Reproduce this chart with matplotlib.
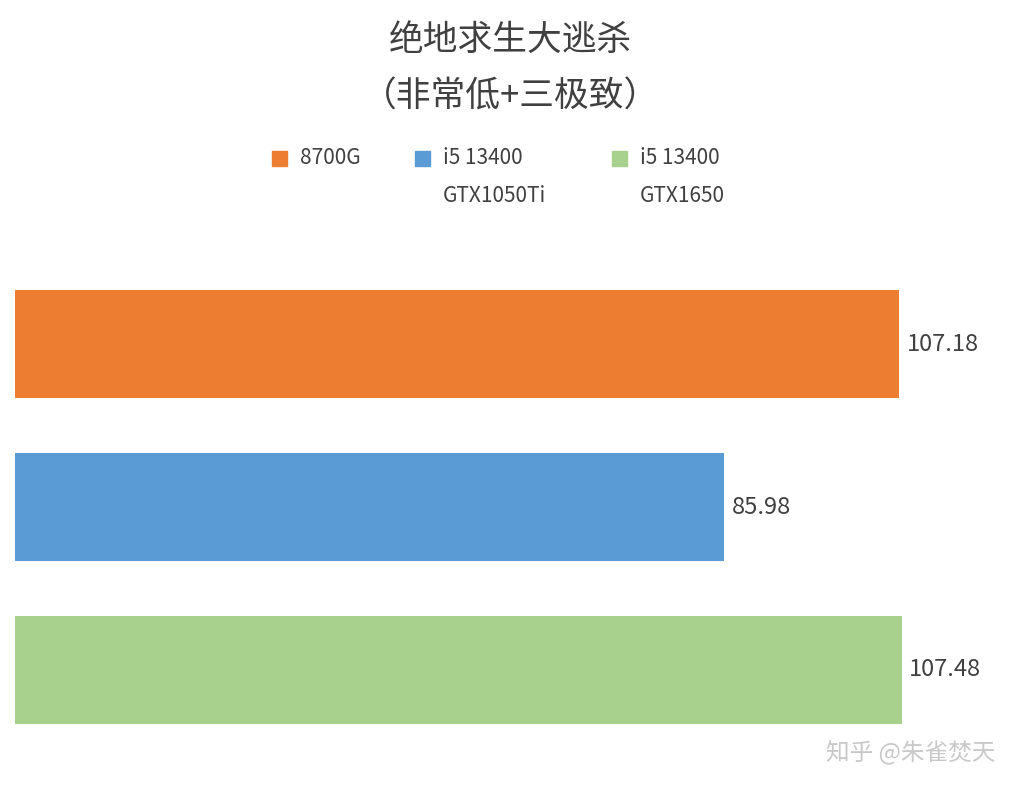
import matplotlib
matplotlib.use("Agg")
import matplotlib.pyplot as plt
from matplotlib.patches import Rectangle

plt.rcParams['font.family'] = ['Noto Sans CJK SC', 'DejaVu Sans']

categories = ["8700G", "i5 13400\nGTX1050Ti", "i5 13400\nGTX1650"]
values = [107.18, 85.98, 107.48]
colors = ["#ED7D31", "#5B9BD5", "#A9D18E"]

W, H = 1021, 795
fig = plt.figure(figsize=(W/100, H/100), dpi=100)
ax = fig.add_axes([15/W, 1-751.5/H, 985/W, 489/H])
pos = list(range(len(values)))
ax.barh(pos, values, height=0.663, color=colors)
ax.set_xlim(0, 985/8.25)
ax.set_ylim(2.5, -0.5)
ax.axis('off')
for p, v in zip(pos, values):
    ax.text(v + 0.9, p, f"{v:.2f}", va='center', ha='left', fontsize=17, color='#404040')

fig.text(0.5, 1-40/H, "绝地求生大逃杀", ha='center', va='center', fontsize=25, color='#404040')
fig.text(0.5, 1-97/H, "（非常低+三极致）", ha='center', va='center', fontsize=25, color='#404040')

leg_x = [272, 415, 612]
for x, lab, c in zip(leg_x, categories, colors):
    fig.patches.append(Rectangle((x/W, 1-166/H), 15/W, 15/H, transform=fig.transFigure, color=c))
    lines = lab.split("\n")
    for i, l in enumerate(lines):
        fig.text((x+28)/W, 1-(158+38*i)/H, l, ha='left', va='center', fontsize=15, color='#404040')

fig.text(995/W, 1-752/H, "知乎 @朱雀焚天", ha='right', va='center', fontsize=17, color='#c8c8c8')
fig.savefig("out.png", dpi=100)
